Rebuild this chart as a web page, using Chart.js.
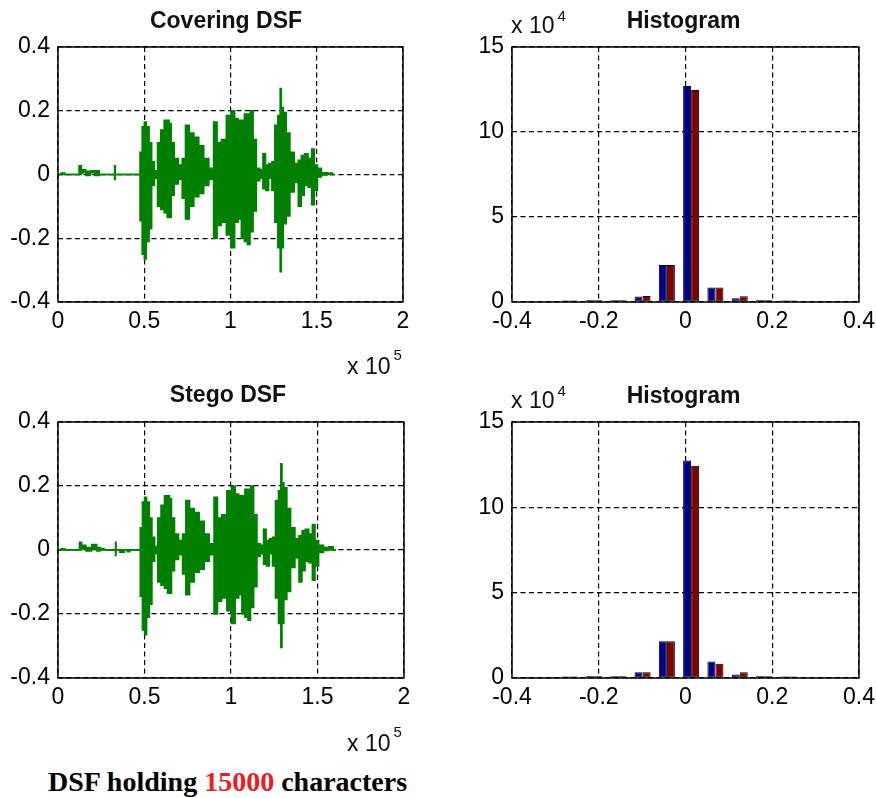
<!DOCTYPE html>
<html><head><meta charset="utf-8">
<script src="https://cdn.jsdelivr.net/npm/chart.js@4.4.1/dist/chart.umd.min.js"></script>
<style>
html,body{margin:0;padding:0;background:#fff;}
#wrap{position:relative;width:876px;height:798px;overflow:hidden;background:#fff;}
canvas{position:absolute;}
.t{position:absolute;font-family:"Liberation Sans",Arial,sans-serif;color:#111;white-space:nowrap;z-index:5;}
.title{font-weight:bold;font-size:23px;line-height:23px;width:240px;text-align:center;}
.ex{font-size:23px;line-height:23px;}
.ex span{font-size:15px;position:relative;margin-left:3px;}
.cap{position:absolute;left:48px;top:768px;font-family:"Liberation Serif","Times New Roman",serif;font-weight:bold;font-size:28px;line-height:28px;color:#000;white-space:nowrap;z-index:5;}
.cap .red{color:#ec1c24;}
</style></head>
<body>
<div id="wrap">
  <canvas id="c1" width="438" height="375" style="left:0;top:0"></canvas>
  <canvas id="c2" width="470" height="375" style="left:438px;top:0"></canvas>
  <canvas id="c3" width="438" height="375" style="left:0;top:375px"></canvas>
  <canvas id="c4" width="470" height="375" style="left:438px;top:375px"></canvas>

  <div class="t title" style="left:106px;top:8.5px">Covering DSF</div>
  <div class="t title" style="left:563.5px;top:8.5px">Histogram</div>
  <div class="t title" style="left:108px;top:382.5px">Stego DSF</div>
  <div class="t title" style="left:563.5px;top:383.5px">Histogram</div>

  <div class="t ex" style="left:347px;top:354.5px">x 10<span style="top:-14px">5</span></div>
  <div class="t ex" style="left:511px;top:13.8px">x 10<span style="top:-12px">4</span></div>
  <div class="t ex" style="left:347px;top:731.5px">x 10<span style="top:-14px">5</span></div>
  <div class="t ex" style="left:511px;top:388.8px">x 10<span style="top:-12px">4</span></div>

  <div class="cap">DSF holding <span class="red">15000</span> characters</div>
</div>
<script>
// ---------------- data ----------------
// Waveform envelopes: sample index, upper and lower extent
const coverX  = [0,3500,4500,11800,12500,14700,17600,20000,22500,25300,32500,33000,33500,47000,
  48000,49500,50500,52000,53700,55000,56800,58500,60500,62500,64000,65000,66300,68500,71000,72900,
  74800,77400,80200,83100,86000,89000,91300,93200,96100,99000,101400,103500,105500,107000,109000,
  110500,112200,114100,116000,118000,119500,121200,123100,124800,126500,128300,129200,129800,131400,
  133300,135700,138300,140200,141900,143800,146200,147800,149400,151500,154000,158000,160300];
const coverHi = [0,0.005,0,0,0.028,0.015,0.01,0.012,0.012,0,0,0.028,0,0,
  0.07,0.15,0.165,0.15,0.10,0.04,0.012,0.10,0.14,0.17,0.17,0.16,0.10,0.05,0.03,0.05,
  0.155,0.13,0.117,0.09,0.05,0.02,0.165,0.10,0.11,0.185,0.2,0.175,0.17,0.17,0.19,
  0.19,0.2,0.11,0.02,0.015,0.065,0.03,0.035,0.04,0.155,0.185,0.27,0.21,0.195,
  0.13,0.07,0.035,0.045,0.06,0.065,0.05,0.08,0.03,0.02,0.006,0.005,0];
const coverLo = [0,0,0,0,0,0.005,-0.003,0.005,-0.003,0,0,-0.016,0,0,
  -0.145,-0.25,-0.265,-0.21,-0.17,-0.035,-0.012,-0.10,-0.11,-0.12,-0.135,-0.135,-0.065,-0.03,-0.015,-0.075,
  -0.14,-0.10,-0.07,-0.06,-0.035,-0.015,-0.2,-0.16,-0.15,-0.19,-0.23,-0.15,-0.14,-0.2,-0.21,
  -0.22,-0.18,-0.115,-0.02,-0.012,-0.045,-0.05,-0.012,-0.05,-0.15,-0.23,-0.305,-0.23,-0.155,
  -0.13,-0.055,-0.025,-0.1,-0.065,-0.035,-0.04,-0.095,-0.05,-0.008,-0.002,0,0];

const stegoX  = [0,3500,4500,12000,12700,14700,17600,21400,23500,25300,28000,33000,33400,33800,37700,39000,41000,42000,47000,
  48000,49500,50500,52000,53700,55000,56800,58500,60500,62500,64000,65000,66300,68500,71000,72900,
  74800,77400,80200,83100,86000,89000,91300,93200,96100,99000,101400,103500,105500,107000,109000,
  110500,112200,114100,116000,118000,119500,121200,123100,124800,126500,128300,129200,129800,131400,
  133300,135700,138300,140200,141900,143800,146200,147800,149400,152000,155000,157700,160600];
const stegoHi = [0,0.004,0,0,0.024,0.015,0.008,0.017,0.008,0.005,0,0,0.024,0,0,0,0,0,0,
  0.07,0.15,0.165,0.15,0.10,0.04,0.012,0.10,0.14,0.17,0.17,0.16,0.10,0.05,0.03,0.05,
  0.155,0.13,0.117,0.09,0.05,0.02,0.165,0.10,0.11,0.185,0.2,0.175,0.17,0.17,0.19,
  0.19,0.2,0.11,0.02,0.015,0.065,0.03,0.035,0.04,0.155,0.185,0.27,0.21,0.195,
  0.13,0.07,0.035,0.045,0.06,0.065,0.05,0.08,0.03,0.015,0.008,0.01,0];
const stegoLo = [0,0,0,0,0,0.004,-0.003,0.003,-0.003,0,0,0,-0.017,0,-0.007,0,-0.006,0,0,
  -0.145,-0.25,-0.265,-0.21,-0.17,-0.035,-0.012,-0.10,-0.11,-0.12,-0.135,-0.135,-0.065,-0.03,-0.015,-0.075,
  -0.14,-0.10,-0.07,-0.06,-0.035,-0.015,-0.2,-0.16,-0.15,-0.19,-0.23,-0.15,-0.14,-0.2,-0.21,
  -0.22,-0.18,-0.115,-0.02,-0.012,-0.045,-0.05,-0.012,-0.05,-0.15,-0.23,-0.305,-0.23,-0.155,
  -0.13,-0.055,-0.025,-0.1,-0.065,-0.035,-0.04,-0.095,-0.05,-0.008,-0.002,0,0];

// Histograms: bin centres and counts
const binCenters     = [-0.267,-0.211,-0.155,-0.099,-0.043,0.013,0.069,0.125,0.181,0.237];
const histTopBlue    = [900,1000,1000,3300,21800,127000,8600,2200,1000,900];
const histTopRed     = [900,1000,1000,3500,21800,124700,8600,3400,1000,900];
const histBottomBlue = [900,1000,1000,3300,21500,127500,9700,2000,1000,900];
const histBottomRed  = [900,1000,1000,3300,21500,124300,8400,3300,1000,900];

// Tick settings
const waveXTicks = {min:0, max:200000, step:50000, scale:1e5};
const waveYTicks = {min:-0.4, max:0.4, step:0.2};
const histXTicks = {min:-0.4, max:0.4, step:0.2};
const histYTicks = {min:0, max:150000, step:50000, scale:1e4};

// ---------------- drawing ----------------
const FONT = '"Liberation Sans", Arial, sans-serif';
const GREEN = '#008000';
const BLUE = '#00008f';
const RED = '#800000';

const boxPlugin = {
  id: 'box',
  afterDatasetsDraw(chart) {
    const {ctx, chartArea: a} = chart;
    ctx.save();
    ctx.strokeStyle = '#000';
    ctx.lineWidth = 1.5;
    ctx.setLineDash([]);
    ctx.strokeRect(a.left, a.top, a.right - a.left, a.bottom - a.top);
    ctx.restore();
  }
};

function fmt(v, s) { const n = v / (s || 1); return String(+n.toFixed(2)); }

function axis(t, fixed, isX) {
  return {
    type: 'linear',
    min: t.min, max: t.max,
    offset: false,
    afterFit(sc) { if (isX) sc.height = fixed; else sc.width = fixed; },
    afterBuildTicks(sc) {
      const arr = [];
      for (let v = t.min; v <= t.max + t.step * 1e-6; v += t.step) arr.push({value: +v.toFixed(6)});
      sc.ticks = arr;
    },
    ticks: {
      color: '#000',
      font: {family: FONT, size: 23},
      padding: isX ? 6 : 8,
      maxRotation: 0, autoSkip: false,
      callback: v => fmt(v, t.scale)
    },
    grid: {color: '#000', lineWidth: 1.2, drawTicks: false, offset: false},
    border: {display: false, dash: [5, 3.5]}
  };
}

function make(id, type, datasets, xt, yt, area) {
  const cv = document.getElementById(id);
  const W = cv.width, H = cv.height;
  return new Chart(cv, {
    type,
    data: {datasets},
    options: {
      responsive: false, animation: false, devicePixelRatio: 1,
      layout: {padding: {left: 0, top: area.top, right: W - area.right, bottom: 0}},
      plugins: {legend: {display: false}, tooltip: {enabled: false}, title: {display: false}},
      scales: {x: axis(xt, H - area.bottom, true), y: axis(yt, area.left, false)}
    },
    plugins: [boxPlugin]
  });
}

function waveSets(xs, hi, lo) {
  const common = {borderColor: GREEN, backgroundColor: GREEN, borderWidth: 1.4, pointRadius: 0, stepped: 'middle', tension: 0};
  return [
    Object.assign({data: xs.map((x, i) => ({x, y: hi[i]})), fill: false}, common),
    Object.assign({data: xs.map((x, i) => ({x, y: lo[i]})), fill: '-1'}, common)
  ];
}

function histSets(blue, red) {
  const common = {borderColor: '#000', borderWidth: 1, borderSkipped: false, categoryPercentage: 0.66, barPercentage: 1.0, grouped: true};
  return [
    Object.assign({data: binCenters.map((x, i) => ({x, y: blue[i]})), backgroundColor: BLUE}, common),
    Object.assign({data: binCenters.map((x, i) => ({x, y: red[i]})), backgroundColor: RED}, common)
  ];
}

make('c1', 'line', waveSets(coverX, coverHi, coverLo), waveXTicks, waveYTicks, {left: 58, top: 47, right: 403, bottom: 302});
make('c2', 'bar', histSets(histTopBlue, histTopRed), histXTicks, histYTicks, {left: 74, top: 47, right: 421, bottom: 302});
make('c3', 'line', waveSets(stegoX, stegoHi, stegoLo), waveXTicks, waveYTicks, {left: 58, top: 47, right: 404, bottom: 303});
make('c4', 'bar', histSets(histBottomBlue, histBottomRed), histXTicks, histYTicks, {left: 74, top: 47, right: 421, bottom: 303});
</script>
</body></html>
